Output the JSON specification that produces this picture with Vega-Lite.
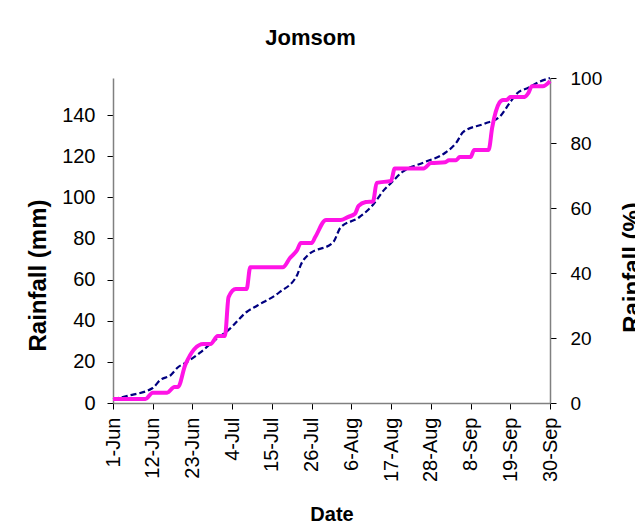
{
  "$schema": "https://vega.github.io/schema/vega-lite/v6.json",
  "autosize": {"type": "none"},
  "padding": {"left": 113, "top": 78, "right": 85, "bottom": 121},
  "width": 437,
  "height": 325,
  "background": "white",
  "config": {
    "view": {"stroke": null},
    "font": "Liberation Sans",
    "axis": {
      "labelFont": "Liberation Sans",
      "titleFont": "Liberation Sans",
      "labelFontSize": 19,
      "labelColor": "#000000",
      "titleColor": "#000000",
      "titleFontSize": 20,
      "titleFontWeight": "bold",
      "domainColor": "#808080",
      "domainWidth": 1.5,
      "tickColor": "#000000",
      "tickSize": 6,
      "grid": false
    }
  },
  "title": {
    "text": "Jomsom",
    "font": "Liberation Sans",
    "fontSize": 22,
    "fontWeight": "bold",
    "color": "#000000",
    "anchor": "middle",
    "dx": -21,
    "dy": 29,
    "baseline": "alphabetic",
    "offset": 31
  },
  "datasets": {
    "actual": [
      {"date": "2010/06/01", "mm": 2},
      {"date": "2010/06/10", "mm": 2},
      {"date": "2010/06/12", "mm": 5},
      {"date": "2010/06/16", "mm": 5},
      {"date": "2010/06/18", "mm": 7.8},
      {"date": "2010/06/19", "mm": 7.8},
      {"date": "2010/06/21", "mm": 18.5},
      {"date": "2010/06/26", "mm": 28.7},
      {"date": "2010/06/28", "mm": 28.7},
      {"date": "2010/06/30", "mm": 32.6},
      {"date": "2010/07/02", "mm": 32.6},
      {"date": "2010/07/03", "mm": 51.5},
      {"date": "2010/07/05", "mm": 55.4},
      {"date": "2010/07/08", "mm": 55.4},
      {"date": "2010/07/09", "mm": 66},
      {"date": "2010/07/18", "mm": 66},
      {"date": "2010/07/20", "mm": 70.5},
      {"date": "2010/07/22", "mm": 74.4},
      {"date": "2010/07/23", "mm": 77.8},
      {"date": "2010/07/26", "mm": 77.8},
      {"date": "2010/07/27", "mm": 80.7},
      {"date": "2010/07/30", "mm": 89},
      {"date": "2010/08/03", "mm": 89},
      {"date": "2010/08/05", "mm": 90.4},
      {"date": "2010/08/07", "mm": 92},
      {"date": "2010/08/08", "mm": 95.8},
      {"date": "2010/08/10", "mm": 97.7},
      {"date": "2010/08/12", "mm": 98},
      {"date": "2010/08/13", "mm": 107},
      {"date": "2010/08/17", "mm": 108},
      {"date": "2010/08/18", "mm": 114},
      {"date": "2010/08/26", "mm": 114},
      {"date": "2010/08/28", "mm": 116.7},
      {"date": "2010/09/01", "mm": 117},
      {"date": "2010/09/02", "mm": 118},
      {"date": "2010/09/04", "mm": 118},
      {"date": "2010/09/05", "mm": 119.6},
      {"date": "2010/09/08", "mm": 119.6},
      {"date": "2010/09/09", "mm": 123},
      {"date": "2010/09/13", "mm": 123},
      {"date": "2010/09/14", "mm": 134},
      {"date": "2010/09/16", "mm": 146},
      {"date": "2010/09/17", "mm": 147.3},
      {"date": "2010/09/18", "mm": 147.3},
      {"date": "2010/09/19", "mm": 148.8},
      {"date": "2010/09/23", "mm": 148.8},
      {"date": "2010/09/24", "mm": 150.7},
      {"date": "2010/09/25", "mm": 154},
      {"date": "2010/09/28", "mm": 154},
      {"date": "2010/09/30", "mm": 156.5}
    ],
    "normal": [
      {"date": "2010/06/01", "pct": 1.2},
      {"date": "2010/06/05", "pct": 2.2},
      {"date": "2010/06/12", "pct": 4.6},
      {"date": "2010/06/14", "pct": 7},
      {"date": "2010/06/17", "pct": 8.6},
      {"date": "2010/06/19", "pct": 11},
      {"date": "2010/06/21", "pct": 12.3},
      {"date": "2010/06/25", "pct": 15.4},
      {"date": "2010/06/28", "pct": 18.2},
      {"date": "2010/06/30", "pct": 20},
      {"date": "2010/07/03", "pct": 22.5},
      {"date": "2010/07/08", "pct": 28},
      {"date": "2010/07/11", "pct": 30},
      {"date": "2010/07/17", "pct": 34},
      {"date": "2010/07/22", "pct": 39.4},
      {"date": "2010/07/23", "pct": 42.5},
      {"date": "2010/07/25", "pct": 45.5},
      {"date": "2010/08/01", "pct": 49.5},
      {"date": "2010/08/03", "pct": 54},
      {"date": "2010/08/08", "pct": 57},
      {"date": "2010/08/12", "pct": 61},
      {"date": "2010/08/15", "pct": 65.5},
      {"date": "2010/08/17", "pct": 67.7},
      {"date": "2010/08/20", "pct": 71},
      {"date": "2010/08/26", "pct": 74},
      {"date": "2010/09/01", "pct": 77},
      {"date": "2010/09/04", "pct": 80},
      {"date": "2010/09/06", "pct": 83.4},
      {"date": "2010/09/12", "pct": 86},
      {"date": "2010/09/16", "pct": 88},
      {"date": "2010/09/19", "pct": 92.6},
      {"date": "2010/09/21", "pct": 95.4},
      {"date": "2010/09/24", "pct": 97},
      {"date": "2010/09/27", "pct": 98.8},
      {"date": "2010/09/30", "pct": 100}
    ]
  },
  "encoding": {
    "x": {
      "field": "date", "type": "temporal",
      "scale": {"domain": [{"year": 2010, "month": 6, "date": 1}, {"year": 2010, "month": 9, "date": 30}], "nice": false},
      "axis": {
        "title": "Date",
        "format": "%-d-%b",
        "labelAngle": 270,
        "labelPadding": 8,
        "labelFontSize": 20,
        "labelFlush": false,
        "labelOverlap": false,
        "labelBound": false,
        "values": [
          {"year": 2010, "month": 6, "date": 1},
          {"year": 2010, "month": 6, "date": 12},
          {"year": 2010, "month": 6, "date": 23},
          {"year": 2010, "month": 7, "date": 4},
          {"year": 2010, "month": 7, "date": 15},
          {"year": 2010, "month": 7, "date": 26},
          {"year": 2010, "month": 8, "date": 6},
          {"year": 2010, "month": 8, "date": 17},
          {"year": 2010, "month": 8, "date": 28},
          {"year": 2010, "month": 9, "date": 8},
          {"year": 2010, "month": 9, "date": 19},
          {"year": 2010, "month": 9, "date": 30}
        ],
        "titleY": 117,
        "titleBaseline": "alphabetic"
      }
    }
  },
  "layer": [
    {
      "data": {"name": "normal"},
      "mark": {"type": "line", "color": "#000080", "strokeWidth": 2.2, "strokeDash": [6, 3], "interpolate": "monotone"},
      "encoding": {
        "y": {
          "field": "pct", "type": "quantitative",
          "scale": {"domain": [0, 100], "nice": false},
          "axis": {
            "orient": "right",
            "title": "Rainfall (%)",
            "values": [0, 20, 40, 60, 80, 100],
            "labelPadding": 14,
            "titleAngle": 270,
            "titleX": 70,
            "titleY": 189,
            "titleBaseline": "top",
            "titleFontSize": 24
          }
        }
      }
    },
    {
      "data": {"name": "actual"},
      "mark": {"type": "line", "color": "#FF14E6", "strokeWidth": 4, "interpolate": "monotone"},
      "encoding": {
        "y": {
          "field": "mm", "type": "quantitative",
          "scale": {"domain": [0, 158], "nice": false},
          "axis": {
            "orient": "left",
            "title": "Rainfall (mm)",
            "values": [0, 20, 40, 60, 80, 100, 120, 140],
            "labelPadding": 12,
            "labelFontSize": 20,
            "titleAngle": 270,
            "titleX": -63,
            "titleY": 197,
            "titleBaseline": "bottom",
            "titleFontSize": 24
          }
        }
      }
    }
  ],
  "resolve": {"scale": {"y": "independent"}}
}
